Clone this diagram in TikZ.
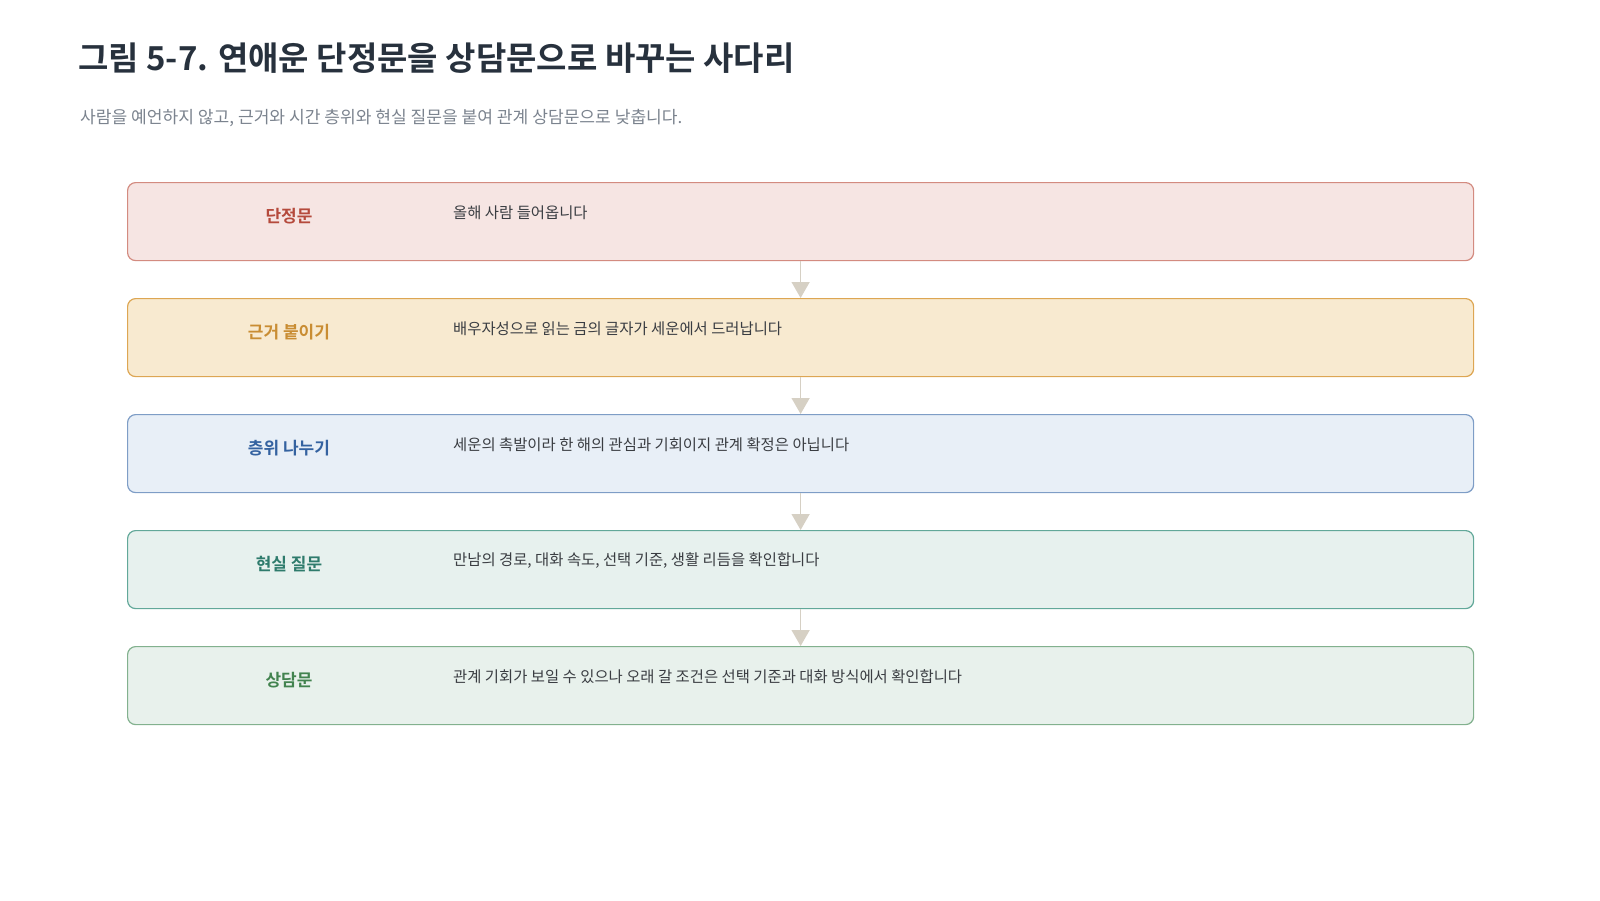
\documentclass[tikz,border=0pt]{standalone}
\usepackage{fontspec}
\setmainfont{Noto Sans CJK KR}
\newfontfamily\krb{Noto Sans CJK KR Bold}
\newfontfamily\krm{Noto Sans CJK KR Medium}
\usetikzlibrary{arrows.meta}
\definecolor{titlec}{HTML}{27313D}
\definecolor{subc}{HTML}{7B838E}
\definecolor{bodyc}{HTML}{3A3D42}
\definecolor{arrc}{HTML}{D6D0C4}
\definecolor{f1}{HTML}{F6E5E3}\definecolor{d1}{HTML}{D38B80}\definecolor{t1}{HTML}{B54A3C}
\definecolor{f2}{HTML}{F8EAD0}\definecolor{d2}{HTML}{DDA653}\definecolor{t2}{HTML}{C98D33}
\definecolor{f3}{HTML}{E8EFF7}\definecolor{d3}{HTML}{7E9DC6}\definecolor{t3}{HTML}{3462A0}
\definecolor{f4}{HTML}{E7F1EE}\definecolor{d4}{HTML}{62A899}\definecolor{t4}{HTML}{2E7B6C}
\definecolor{f5}{HTML}{E8F1EC}\definecolor{d5}{HTML}{82B18E}\definecolor{t5}{HTML}{42834F}
\tikzset{
  stagebox/.style={draw, line width=1.2pt, rounded corners=8pt, minimum width=1346pt, minimum height=78pt, anchor=north west, inner sep=0pt},
  stagelabel/.style={font=\krb\fontsize{17pt}{20pt}\selectfont, anchor=center},
  stagebody/.style={font=\fontsize{15.4pt}{18pt}\selectfont, text=bodyc, anchor=west, inner sep=0pt},
  flowarrow/.style={draw=arrc, line width=1.5pt, -{Triangle[width=18pt,length=16pt]}}
}
\begin{document}
\begin{tikzpicture}[x=1pt,y=-1pt]
\useasboundingbox (0,0) rectangle (1600,900);
\node[anchor=base west, inner sep=0pt, text=titlec, font=\krb\fontsize{33pt}{38pt}\selectfont] (title) at (78,70) {그림 5-7. 연애운 단정문을 상담문으로 바꾸는 사다리};
\node[anchor=base west, inner sep=0pt, text=subc, font=\fontsize{17.1pt}{20pt}\selectfont] (sub) at (80,123) {사람을 예언하지 않고, 근거와 시간 층위와 현실 질문을 붙여 관계 상담문으로 낮춥니다.};
\foreach \i/\y/\lab/\body in {
  1/182/단정문/올해 사람 들어옵니다,
  2/298/근거 붙이기/배우자성으로 읽는 금의 글자가 세운에서 드러납니다,
  3/414/층위 나누기/세운의 촉발이라 한 해의 관심과 기회이지 관계 확정은 아닙니다,
  4/530/현실 질문/{만남의 경로, 대화 속도, 선택 기준, 생활 리듬을 확인합니다},
  5/646/상담문/관계 기회가 보일 수 있으나 오래 갈 조건은 선택 기준과 대화 방식에서 확인합니다}{
  \node[stagebox, fill=f\i, draw=d\i] (b\i) at (127,\y) {};
  \node[stagelabel, text=t\i] (l\i) at (289,\y+34) {\lab};
  \node[stagebody] (t\i) at (453,\y+31) {\body};
}
\foreach \a/\b in {1/2,2/3,3/4,4/5}{
  \draw[flowarrow] (b\a.south) -- (b\b.north);
}
\end{tikzpicture}
\end{document}
